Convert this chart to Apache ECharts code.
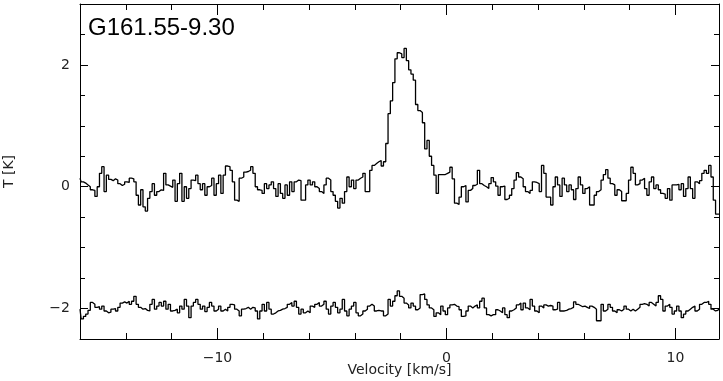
<!DOCTYPE html>
<html>
<head>
<meta charset="utf-8">
<title>G161.55-9.30</title>
<script src="https://cdn.jsdelivr.net/npm/echarts@6/dist/echarts.min.js"></script>
<style>
  html, body { margin: 0; padding: 0; background: #fff; }
  #chart { width: 723px; height: 381px; }
</style>
</head>
<body>
<div id="chart"></div>
<script>
// channel grid (km/s)
const vStart = -16.0
const dv = 0.1
const X_MIN = -16
const X_MAX = 11.9
const Y_MIN = -2.5
const Y_MAX = 3

const xMajor = [-10, 0, 10]
const yMajor = [-2, 0, 2]

// observed spectrum T [K], one value per channel
const spectrum = [
  0.14, 0.08, 0.06, 0.03, 0.0, -0.05, -0.06, -0.16, 0.0, 0.22,
  0.33, -0.08, 0.19, 0.12, 0.1, 0.13, 0.11, 0.05, 0.02, 0.04,
  0.08, 0.07, 0.14, 0.13, 0.08, -0.14, -0.30, -0.05, -0.33, -0.40,
  -0.19, -0.08, 0.05, -0.14, -0.08, -0.05, -0.06, 0.22, 0.03, 0.01,
  -0.01, 0.11, -0.24, 0.05, 0.22, -0.24, 0.0, -0.19, -0.03, 0.11,
  0.1, 0.19, 0.05, -0.05, 0.05, -0.14, 0.0, 0.02, 0.14, -0.14,
  0.05, 0.19, -0.11, 0.19, 0.34, 0.33, 0.27, 0.08, -0.22, -0.24,
  0.14,
  0.16, 0.24, 0.25, 0.27, 0.33, 0.22, 0.0, -0.05, -0.06, -0.11,
  0.05, -0.03, 0.03, 0.08, -0.03, -0.16, 0.05, -0.11, -0.19, 0.03,
  -0.14, 0.08, -0.08, 0.08, 0.11, 0.1, -0.22, -0.22, 0.03, 0.11,
  0.03, 0.08, 0.0, -0.03, -0.08, -0.11, 0.03, 0.14, 0.11, -0.08,
  -0.14, -0.24, -0.35, -0.19, -0.27, -0.08, 0.16, 0.0, 0.11, -0.03,
  0.11, 0.14, 0.16, 0.22, -0.08, -0.08, 0.27, 0.35, 0.38, 0.41,
  0.43, 0.34, 0.41, 0.71,
  1.2, 1.41, 1.71, 2.10, 2.20, 2.18, 2.12, 2.27, 2.07, 1.92,
  1.85, 1.75, 1.35, 1.25, 1.22, 1.05, 0.62, 0.76, 0.5, 0.35,
  0.19, -0.11, 0.2, 0.2, 0.2, 0.22, 0.24, 0.32, 0.13, -0.27,
  -0.29, -0.17, 0.0, 0.02, -0.25, -0.06, -0.03, 0.02, 0.04, 0.27,
  0.05, 0.02, 0.0, -0.03, 0.05, 0.15, 0.08, 0.01, -0.14, 0.0,
  0.01, -0.21, -0.19, -0.14, -0.03, 0.11, 0.23, 0.16, 0.13, 0.0,
  -0.08, -0.11, -0.06, 0.08, 0.07, 0.05, -0.08, 0.35, 0.22, -0.17,
  -0.17, -0.3, 0.0, 0.16,
  0.03, -0.16, 0.14, 0.03, -0.08, 0.03, -0.05, -0.21, -0.03, 0.16,
  0.03, -0.11, -0.03, 0.0, -0.30, -0.30, -0.14, -0.08, -0.05, 0.11,
  0.2, 0.28, 0.14, 0.05, 0.03, -0.14, -0.05, -0.08, -0.23, -0.23,
  -0.11, 0.11, 0.32, 0.22, 0.03, 0.05, 0.11, 0.14, -0.03, -0.14,
  0.08, 0.16, -0.03, 0.03, -0.05, -0.11, -0.12, -0.19, -0.03, -0.22,
  0.03, 0.03, 0.04, -0.05, 0.05, -0.16, -0.03, 0.16, -0.03, -0.19,
  0.08, 0.05, 0.1, 0.22, 0.27, 0.22, 0.35, 0.16, -0.22, -0.45,
  -0.45
]

// residual (shifted by -2 K), one value per channel
const residual = [
  -2.01, -2.17, -2.13, -2.09, -2.03, -1.9, -1.93, -1.98, -1.97, -2.01,
  -1.96, -2.04, -2.07, -2.06, -2.01, -2.0, -2.04, -1.98, -1.91, -1.89,
  -1.91, -1.88, -1.93, -1.88, -1.8, -1.93, -1.98, -2.01, -2.0, -2.03,
  -2.04, -1.93, -1.85, -2.01, -1.96, -1.9, -1.96, -1.88, -2.01, -1.93,
  -2.04, -2.03, -2.01, -2.07, -1.96, -2.01, -1.85, -1.96, -2.15, -1.96,
  -1.9, -1.85, -1.93, -2.01, -1.96, -2.05, -1.98, -1.9, -1.96, -2.04,
  -2.01, -1.96, -2.04, -2.01, -2.04, -1.98, -1.93, -1.94, -2.01, -2.04,
  -2.12,
  -2.01, -2.0, -1.98, -2.01, -1.98, -1.99, -2.04, -2.17, -2.04, -1.93,
  -2.04, -1.9, -2.01, -2.09, -2.07, -2.04, -2.03, -2.01, -2.0, -1.98,
  -1.93, -1.9, -1.96, -1.88, -1.98, -2.09, -2.01, -2.07, -2.04, -2.07,
  -1.96, -1.98, -1.93, -1.9, -1.96, -1.93, -1.88, -2.01, -2.09, -1.96,
  -1.9, -1.98, -2.07, -2.01, -1.85, -2.04, -2.12, -2.01, -1.96, -1.9,
  -2.07, -2.12, -2.09, -2.04, -2.01, -1.96, -1.93, -1.96, -2.04, -2.03,
  -2.04, -2.04, -2.12, -2.09, -1.85, -1.96, -1.88, -1.79, -1.71,
  -1.8, -1.83, -1.91, -1.94, -1.99, -1.91, -1.96, -2.02, -1.99, -1.77,
  -1.76, -1.85, -1.94, -1.99, -2.02, -2.13, -2.07, -2.1, -1.96, -2.04,
  -2.1, -1.99, -1.94, -1.93, -1.96, -1.97, -2.02, -2.13, -2.12, -2.04,
  -1.96, -1.99, -1.96, -1.94, -1.99, -1.88, -1.83, -1.99, -2.1, -2.12,
  -2.1, -2.1, -2.02, -2.04, -2.07, -1.99, -2.1, -2.15, -2.04, -2.02,
  -1.99, -1.94, -1.91, -2.02, -1.91, -1.99, -2.02, -1.85, -1.96, -2.04,
  -2.07, -1.96, -1.99, -1.94, -1.96, -1.95, -1.96, -2.02, -2.01,
  -1.9, -2.04, -2.04, -2.03, -2.01, -2.0, -1.98, -1.89, -1.93, -1.95,
  -1.97, -1.96, -1.98, -2.0, -1.96, -1.98, -2.01, -2.2, -2.2, -1.93,
  -2.04, -2.01, -1.93, -1.98, -2.04, -2.07, -2.02, -2.04, -2.01, -1.96,
  -2.01, -2.04, -2.01, -2.04, -2.01, -1.98, -1.93, -1.92, -1.93, -1.96,
  -1.9, -1.93, -1.96, -1.9, -1.79, -1.85, -2.04, -1.96, -1.93, -1.98,
  -2.09, -2.04, -1.96, -2.04, -2.15, -2.09, -2.04, -2.01, -1.98, -1.96,
  -2.04, -2.01, -1.93, -1.9, -1.9, -1.88, -1.93, -2.01, -2.04, -2.03,
  -2.0
]

const velocity = spectrum.map((_, i) => +(vStart + i * dv).toFixed(2))

const minus = v => String(v).replace('-', '\u2212')
const labelFont = { color: '#222', fontFamily: 'DejaVu Sans', fontSize: 14 }
const black = { color: '#000', width: 1 }

function xAx(position, major, extra) {
  return Object.assign({
    type: 'value', position, min: X_MIN, max: X_MAX, gridIndex: 0,
    splitLine: { show: false },
    axisLine: { show: !major, onZero: false, lineStyle: black },
    axisTick: major
      ? { inside: true, length: 11, customValues: xMajor, lineStyle: black }
      : { inside: true, length: 6, lineStyle: black },
    axisLabel: { show: false }
  }, major ? {} : { interval: 2 }, extra || {})
}

function yAx(position, major, extra) {
  return Object.assign({
    type: 'value', position, min: Y_MIN, max: Y_MAX, gridIndex: 0,
    splitLine: { show: false },
    axisLine: { show: !major, onZero: false, lineStyle: black },
    axisTick: major
      ? { inside: true, length: 8, customValues: yMajor, lineStyle: black }
      : { inside: true, length: 5, lineStyle: black },
    axisLabel: { show: false }
  }, major ? {} : { interval: 0.5 }, extra || {})
}

const chart = echarts.init(document.getElementById('chart'), null, { renderer: 'canvas' })

chart.setOption({
  animation: false,
  backgroundColor: '#fff',
  title: {
    text: 'G161.55-9.30',
    left: 88,
    top: 16,
    padding: 0,
    textStyle: { color: '#000', fontFamily: 'Liberation Sans', fontSize: 24, fontWeight: 'normal' }
  },
  grid: { left: 80, right: 4, top: 4, bottom: 42, containLabel: false, outerBoundsMode: 'none' },
  xAxis: [
    xAx('bottom', false, {
      name: 'Velocity [km/s]', nameLocation: 'middle', nameGap: 24,
      nameTextStyle: labelFont
    }),
    xAx('bottom', true, {
      axisLabel: Object.assign({ show: true, customValues: xMajor, margin: 12, formatter: minus }, labelFont)
    }),
    xAx('top', false),
    xAx('top', true)
  ],
  yAxis: [
    yAx('left', false, {
      name: 'T [K]', nameLocation: 'middle', nameGap: 64, nameRotate: 90,
      nameTextStyle: labelFont
    }),
    yAx('left', true, {
      axisLabel: Object.assign({ show: true, customValues: yMajor, margin: 10, formatter: minus }, labelFont)
    }),
    yAx('right', false),
    yAx('right', true)
  ],
  series: [
    {
      name: 'spectrum', type: 'line', step: 'middle', xAxisIndex: 0, yAxisIndex: 0,
      data: velocity.map((v, i) => [v, spectrum[i]]),
      symbol: 'none', lineStyle: { color: '#000', width: 1.3 }, silent: true
    },
    {
      name: 'residual', type: 'line', step: 'middle', xAxisIndex: 0, yAxisIndex: 0,
      data: velocity.map((v, i) => [v, residual[i]]),
      symbol: 'none', lineStyle: { color: '#000', width: 1.3 }, silent: true
    }
  ]
})
</script>
</body>
</html>
